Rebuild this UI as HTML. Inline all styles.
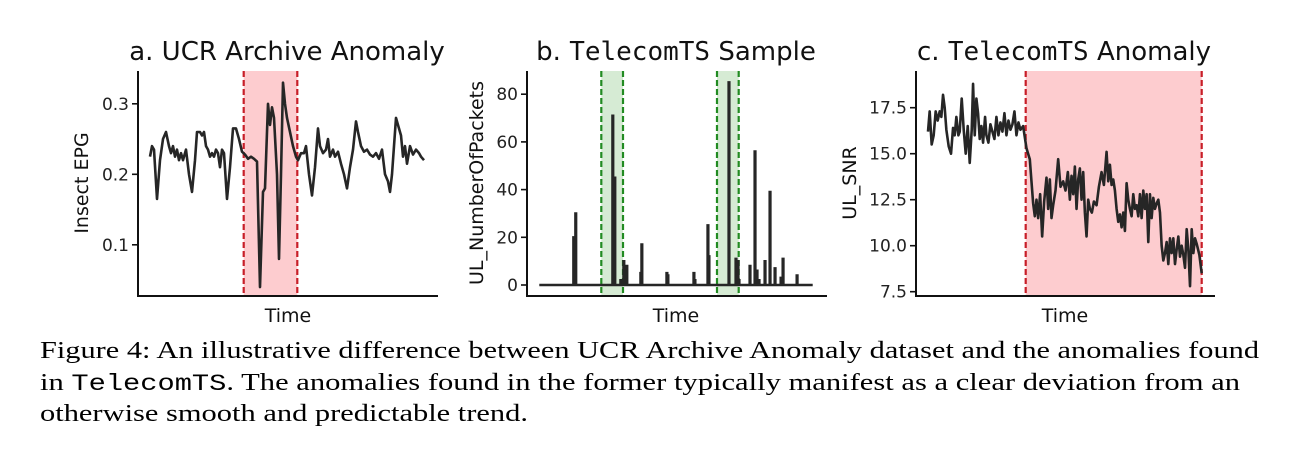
<!DOCTYPE html>
<html><head><meta charset="utf-8"><style>
body{margin:0;background:#fff;width:1298px;height:466px;overflow:hidden}
svg{display:block}
.tk{font-family:"DejaVu Sans","Liberation Sans",sans-serif;font-size:17px;fill:#222}
.ttl{font-family:"DejaVu Sans","Liberation Sans",sans-serif;font-size:26px;fill:#111}
.mono{font-family:"DejaVu Sans Mono","Liberation Mono",monospace}
.lab{font-family:"DejaVu Sans","Liberation Sans",sans-serif;font-size:19px;fill:#111}
.cap{font-family:"Liberation Serif",serif;font-size:24.5px;fill:#000}
.capm{font-family:"Liberation Mono",monospace;font-size:23px}
</style></head><body>
<svg id="fig" width="1298" height="466">
<g id="pa"></g>
<g id="pb"></g>
<g id="pc"></g>
<text class="ttl" x="287" y="60" text-anchor="middle">a. UCR Archive Anomaly</text>
<text class="ttl" x="676" y="60" text-anchor="middle">b. <tspan class="mono">TelecomTS</tspan> Sample</text>
<text class="ttl" x="1064" y="60" text-anchor="middle">c. <tspan class="mono">TelecomTS</tspan> Anomaly</text>
<text class="lab" x="288" y="322" text-anchor="middle">Time</text>
<text class="lab" x="676" y="322" text-anchor="middle">Time</text>
<text class="lab" x="1065" y="322" text-anchor="middle">Time</text>
<text class="lab" transform="translate(88,183) rotate(-90)" text-anchor="middle">Insect EPG</text>
<text class="lab" transform="translate(483,183) rotate(-90)" text-anchor="middle">UL_NumberOfPackets</text>
<text class="lab" transform="translate(856,183) rotate(-90)" text-anchor="middle">UL_SNR</text>
<text class="cap" x="40" y="358" textLength="1219" lengthAdjust="spacingAndGlyphs">Figure 4: An illustrative difference between UCR Archive Anomaly dataset and the anomalies found</text>
<text class="cap" x="40" y="390" textLength="1200" lengthAdjust="spacingAndGlyphs">in <tspan class="capm">TelecomTS</tspan>. The anomalies found in the former typically manifest as a clear deviation from an</text>
<text class="cap" x="40" y="421" textLength="488" lengthAdjust="spacingAndGlyphs">otherwise smooth and predictable trend.</text>
</svg>
<script>
// Panel a: UCR insect EPG
const aTime=[0,2,4,7,10,13,16,19,21,23,25,27,29,31,33,36,39,42,45,47,50,52,54,56,58,60,62,64,66,68,70,72,74,77,80,83,86,89,92,95,98,101,104,107,110,113,115,118,120,122,124,127,129,131,133,135,137,140,143,146,148,151,154,156,159,162,165,168,170,173,176,178,180,183,185,188,191,194,197,200,203,206,208,211,214,217,220,223,226,229,232,235,238,240,242,244,246,248,251,253,255,257,260,263,266,269,271,274];
const aVals=[.225,.24,.235,.165,.22,.25,.26,.24,.23,.24,.225,.235,.22,.23,.22,.235,.2,.175,.22,.26,.26,.255,.26,.24,.235,.225,.23,.225,.235,.23,.21,.235,.23,.165,.21,.265,.265,.25,.232,.228,.222,.225,.222,.218,.04,.175,.18,.3,.27,.295,.28,.2,.08,.2,.33,.3,.28,.26,.24,.225,.22,.23,.23,.24,.2,.17,.21,.265,.24,.23,.235,.25,.225,.235,.225,.232,.215,.2,.18,.21,.235,.275,.26,.24,.232,.235,.228,.225,.23,.222,.235,.2,.19,.175,.2,.24,.28,.27,.255,.225,.24,.215,.24,.228,.235,.23,.225,.22];
const aTicks=[0.1,0.2,0.3];
const aBand=[93.7,147.3];
// Panel b: packets spikes
const bSpikeT=[34,36,73,75,81,84,87,101,102,127,128,154,155,168,169,189,196,198,199,210,215,217,219,225,230,235,241,243,257];
const bSpikeV=[20,30,71,45,2,10,8,5,17,5,4,5,2,25,12,85,11,10,2,8,56,6,2,10,39,7,3,11,4];
const bTicks=[0,20,40,60,80];
const bBands=[[62,83.7],[177.7,199.4]];
// Panel c: UL SNR
const cTime=[265,270,276,282,288,294,300,305,310,315,320,327,334,340,345,350,356,360,366,372,378,384,390,396,400,405,410,415,420,425,430,436,440,446,452,458,464,470,476,482,488,494,500,506,512,518,524,530,536,542,550,560,565,570,575,580,585,590,595,601,607,613,620,625,630,635,640,647,655,662,670,677,684,690,695,700,705,710,715,720,725,730,735,740,745,750,756,762,770,777,785,792,800,805,810,815,820,825,830,835,840,845,850,855,860,865,870,875,880,885,890,895,900,905,910,915,920,925,930,935,940,945,950,955,960,965,970,975,980,985,990,995,1000,1005,1010,1015,1020,1025,1030,1035,1040,1045,1050,1055,1060,1065,1070,1078,1085];
const cVals=[16.2,17.3,15.5,16,17.3,16.8,17.3,17,18.2,17.5,16.3,15.4,15,16.4,16,17,16,16.2,18,16.3,15,16.5,14.5,16.3,18.8,16,18,17.2,15.8,16.5,15.6,17,16,15.6,16.6,16.2,15.8,17,16,16.7,16.2,17.2,16,16.8,16.3,16.6,17.3,16,16.7,16.3,16.5,15.3,15,14.7,13.5,12.3,11.6,12.5,11.5,12.8,10.5,12.4,13.7,12,13.6,11.5,12.2,13,14.7,13.2,13.5,13,14,12.5,13.8,12.8,14.3,12,13.6,14.2,12.5,14,11.8,10.5,12.5,12,11.8,12.4,12.2,13.2,14,13.3,15.1,13.5,14.4,13.3,13.6,13,12,11.3,11.7,11,11.8,10.8,13.4,12.5,12,11.6,12.8,12,12.2,11.6,12.8,11.5,13,12,12.8,10.2,12.8,11.5,12.6,12,12.3,12.5,11.8,10,9.2,9.6,10.2,9,10.4,9.6,10.4,9,9.8,10.5,9.4,10,9.5,8.8,10.9,9.8,7.8,10.9,9.6,10.4,10.1,9.5,8.5];
const cTicks=[7.5,10.0,12.5,15.0,17.5];
const cBand=[1025.7,1201.7];

const NS="http://www.w3.org/2000/svg";
function mk(parent,tag,attrs){const e=document.createElementNS(NS,tag);for(const k in attrs)e.setAttribute(k,attrs[k]);parent.appendChild(e);return e;}
const LINE="#262626",RED="#c81e28",PINK="#fdcccf",GREEN="#228b22",LGREEN="#d6ebd4";

function axes(g,L,R,T,B,ticks,ys,fmt,nm){
  const ax=mk(g,'path',{d:`M${L},${T} V${B} H${R}`,fill:'none',stroke:'#111','stroke-width':2});
  
  
  ticks.forEach(v=>{const y=ys(v);
    const t=mk(g,'line',{x1:L-6,x2:L,y1:y,y2:y,stroke:'#111','stroke-width':1.6});
    
    
    const tx=mk(g,'text',{x:L-9,y:y+6,'text-anchor':'end',class:'tk'});tx.textContent=fmt(v);
    
    
  });
}
function band(g,x1,x2,T,B,fill,stroke,nm){
  const r=mk(g,'rect',{x:x1,y:T,width:x2-x1,height:B-T,fill:fill});
  
  
  [x1,x2].forEach(x=>{const l=mk(g,'line',{x1:x,x2:x,y1:T,y2:B,stroke:stroke,'stroke-width':2.2,'stroke-dasharray':'6,3'});
    
    });
}
// Panel a
(function(){const g=document.getElementById('pa');const L=138,R=438,T=71,B=296;
 const xs=t=>150+t/274*274, ys=v=>174.3-(v-0.2)*705;
 band(g,150+aBand[0],150+aBand[1],T,B,PINK,RED,'anomaly-band-a');
 const p=mk(g,'polyline',{points:aTime.map((t,i)=>xs(t)+','+ys(aVals[i])).join(' '),fill:'none',stroke:LINE,'stroke-width':2.6,'stroke-linejoin':'round'});
 
 
 axes(g,L,R,T,B,aTicks,ys,v=>v.toFixed(1),'a');})();
// Panel b
(function(){const g=document.getElementById('pb');const L=527,R=827,T=71,B=296;
 const xs=t=>539.3+t/273*273.4, ys=v=>285-v*2.385;
 bBands.forEach((b,i)=>band(g,539.3+b[0],539.3+b[1],T,B,LGREEN,GREEN,'normal-band-b'+(i+1)));
 let pts=[xs(0)+','+ys(0)];
 bSpikeT.forEach((t,i)=>{pts.push(xs(t)+','+ys(0));pts.push(xs(t)+','+ys(bSpikeV[i]));pts.push(xs(t+0.8)+','+ys(bSpikeV[i]));pts.push(xs(t+0.8)+','+ys(0));});
 pts.push(xs(273)+','+ys(0));
 const p=mk(g,'polyline',{points:pts.join(' '),fill:'none',stroke:LINE,'stroke-width':2.4,'stroke-linejoin':'miter'});
 
 
 axes(g,L,R,T,B,bTicks,ys,v=>String(v),'b');})();
// Panel c
(function(){const g=document.getElementById('pc');const L=916,R=1215,T=71,B=296;
 const xs=t=>928+(t-265)/820*273.7, ys=v=>291.7-(v-7.5)*18.4;
 band(g,cBand[0],cBand[1],T,B,PINK,RED,'anomaly-band-c');
 const p=mk(g,'polyline',{points:cTime.map((t,i)=>xs(t)+','+ys(cVals[i])).join(' '),fill:'none',stroke:LINE,'stroke-width':2.6,'stroke-linejoin':'round'});
 
 
 axes(g,L,R,T,B,cTicks,ys,v=>v.toFixed(1),'c');})();
</script>
</body></html>
